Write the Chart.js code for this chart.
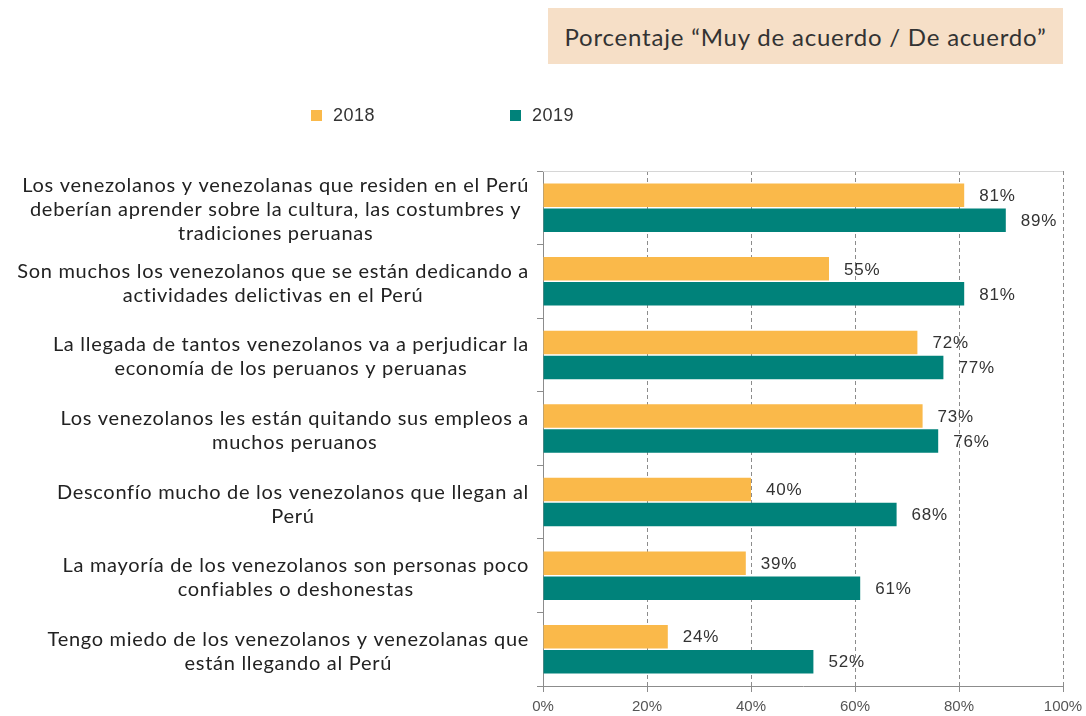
<!DOCTYPE html>
<html><head><meta charset="utf-8">
<script src="https://cdn.jsdelivr.net/npm/chart.js@4"></script>
<style>
html,body{margin:0;padding:0;background:#fff;}
#wrap{position:relative;width:1086px;height:716px;overflow:hidden;}
#title{position:absolute;left:548px;top:8px;width:515px;height:56px;background:#F6DFC7;font-family:Lato,"Open Sans",sans-serif;font-size:24px;letter-spacing:0.8px;color:#333;display:flex;align-items:center;justify-content:center;white-space:nowrap;}
.leg{position:absolute;top:104px;font-family:"Liberation Sans",Arial,sans-serif;font-size:18px;letter-spacing:0.5px;color:#333;line-height:22px;white-space:nowrap;}
.sw{display:inline-block;width:11px;height:11px;margin-right:11px;vertical-align:0px;}
canvas{position:absolute;left:0;top:0;}
</style></head>
<body>
<div id="wrap">
<canvas id="c" width="1086" height="716"></canvas>
<div id="title">Porcentaje “Muy de acuerdo / De acuerdo”</div>
<div class="leg" id="leg1" style="left:311px;"></div>
<div class="leg" id="leg2" style="left:510px;"></div>
</div>
<script>
const categories = [
  ["Los venezolanos y venezolanas que residen en el Perú", "deberían aprender sobre la cultura, las costumbres y", "tradiciones peruanas"],
  ["Son muchos los venezolanos que se están dedicando a", "actividades delictivas en el Perú"],
  ["La llegada de tantos venezolanos va a perjudicar la", "economía de los peruanos y peruanas"],
  ["Los venezolanos les están quitando sus empleos a", "muchos peruanos"],
  ["Desconfío mucho de los venezolanos que llegan al", "Perú"],
  ["La mayoría de los venezolanos son personas poco", "confiables o deshonestas"],
  ["Tengo miedo de los venezolanos y venezolanas que", "están llegando al Perú"]
];
const seriesNames = ["2018", "2019"];
const values2018 = [81, 55, 72, 73, 40, 39, 24];
const values2019 = [89, 81, 77, 76, 68, 61, 52];
const xTickValues = [0, 20, 40, 60, 80, 100];
const colors = ["#FAB94A", "#00827A"];

document.getElementById('leg1').innerHTML = '<span class="sw" style="background:' + colors[0] + '"></span>' + seriesNames[0];
document.getElementById('leg2').innerHTML = '<span class="sw" style="background:' + colors[1] + '"></span>' + seriesNames[1];

const labelFont = '20px Lato';
const yLabelPlugin = {
  id: 'yLabels',
  afterDraw(chart) {
    const ctx = chart.ctx;
    const ys = chart.scales.y;
    ctx.save();
    ctx.font = labelFont;
    if ('letterSpacing' in ctx) ctx.letterSpacing = '0.7px';
    ctx.fillStyle = '#222';
    ctx.textAlign = 'center';
    ctx.textBaseline = 'middle';
    const lineH = 24;
    categories.forEach((lines, i) => {
      const y = ys.getPixelForValue(i);
      let w = 0;
      lines.forEach(l => { w = Math.max(w, ctx.measureText(l).width); });
      const cx = 529 - w / 2;
      const y0 = y - (lines.length - 1) * lineH / 2 + 2;
      lines.forEach((l, k) => ctx.fillText(l, cx, y0 + k * lineH));
    });
    // top border of plot
    const a = chart.chartArea;
    ctx.strokeStyle = '#d6d6d6';
    ctx.lineWidth = 1;
    ctx.beginPath();
    ctx.moveTo(a.left, a.top + 0.5);
    ctx.lineTo(a.right, a.top + 0.5);
    ctx.stroke();
    ctx.restore();
  }
};
const dataLabelPlugin = {
  id: 'dataLabels',
  afterDatasetsDraw(chart) {
    const ctx = chart.ctx;
    ctx.save();
    ctx.font = '17px "Liberation Sans", Arial, sans-serif';
    if ('letterSpacing' in ctx) ctx.letterSpacing = '0.8px';
    ctx.fillStyle = '#333';
    ctx.textAlign = 'left';
    ctx.textBaseline = 'middle';
    chart.data.datasets.forEach((ds, di) => {
      const meta = chart.getDatasetMeta(di);
      meta.data.forEach((el, i) => {
        ctx.fillText(ds.data[i] + '%', el.x + 15, el.y + 1);
      });
    });
    ctx.restore();
  }
};

new Chart(document.getElementById('c'), {
  type: 'bar',
  data: {
    labels: categories.map(c => c.join(' ')),
    datasets: [
      { label: seriesNames[0], data: values2018, backgroundColor: colors[0], barPercentage: 0.94, categoryPercentage: 0.68 },
      { label: seriesNames[1], data: values2019, backgroundColor: colors[1], barPercentage: 0.94, categoryPercentage: 0.68 }
    ]
  },
  options: {
    indexAxis: 'y',
    responsive: false,
    devicePixelRatio: 1,
    animation: false,
    layout: { padding: { top: 171, right: 23, left: 0, bottom: 0 } },
    plugins: { legend: { display: false }, tooltip: { enabled: false } },
    scales: {
      x: {
        min: 0, max: 100,
        afterBuildTicks: s => { s.ticks = xTickValues.map(v => ({ value: v })); },
        ticks: { callback: v => v + '%', font: { family: '"Liberation Sans", Arial, sans-serif', size: 15 }, color: '#555', padding: 6, maxRotation: 0 },
        grid: { color: '#8c8c8c', lineWidth: 1, tickLength: 6, drawTicks: true },
        border: { display: true, color: '#8c8c8c', width: 1, dash: [4, 3] },
        afterFit: s => { s.height = 30; s.paddingRight = 0; s.paddingLeft = 0; }
      },
      y: {
        ticks: { display: false },
        grid: { drawOnChartArea: false, drawTicks: true, tickLength: 6, color: '#8c8c8c', offset: true },
        border: { display: true, color: '#8c8c8c', width: 1 },
        afterFit: s => { s.width = 543; }
      }
    }
  },
  plugins: [yLabelPlugin, dataLabelPlugin]
});
</script>
</body></html>
